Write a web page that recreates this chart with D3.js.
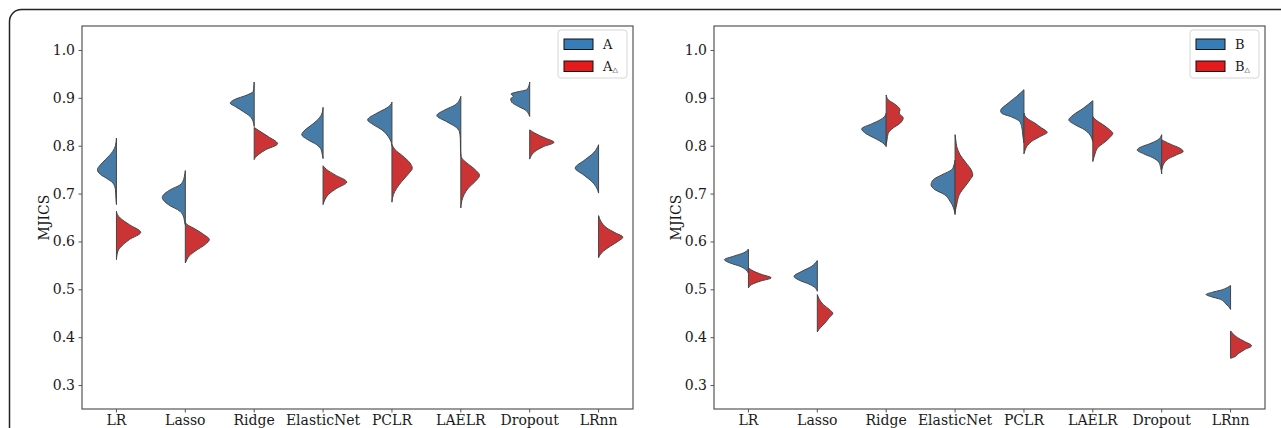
<!DOCTYPE html>
<html><head><meta charset="utf-8">
<script src="https://cdn.jsdelivr.net/npm/d3@7"></script>
<style>body{margin:0;background:#fff}svg{display:block}</style>
</head><body>
<svg id="chart" width="1281" height="428"></svg>
<script>
// ---- data ----
const categories = ["LR","Lasso","Ridge","ElasticNet","PCLR","LAELR","Dropout","LRnn"];
const yTicks = [0.3,0.4,0.5,0.6,0.7,0.8,0.9,1.0];
const yTickLabels = ["0.3","0.4","0.5","0.6","0.7","0.8","0.9","1.0"];
const yLabel = "MJICS";
const legendA = ["A","A"];
const legendB = ["B","B"];
const subMark = "\u25B3";

// density profiles [value, density] per category
const densityA = [
  [[0.816,0],[0.800,1],[0.788,3.7],[0.771,11],[0.760,16],[0.750,19],[0.740,16],[0.732,10],[0.722,3.5],[0.708,1],[0.690,0.5],[0.677,0]],
  [[0.748,0],[0.735,1],[0.725,2.5],[0.718,5.3],[0.708,15],[0.692,23],[0.677,17],[0.663,5.3],[0.650,1.5],[0.642,0.8],[0.635,0]],
  [[0.933,0],[0.920,0.5],[0.913,1],[0.906,7],[0.896,20],[0.889,24],[0.882,19],[0.871,10.7],[0.861,4],[0.850,1],[0.840,0]],
  [[0.880,0],[0.868,1],[0.858,3.7],[0.844,11],[0.831,19],[0.823,21.3],[0.813,15.7],[0.802,6.3],[0.792,2],[0.782,0.8],[0.773,0]],
  [[0.891,0],[0.885,1.5],[0.879,5],[0.868,15],[0.854,24.3],[0.844,18.7],[0.833,10],[0.819,3.7],[0.809,1],[0.800,0]],
  [[0.903,0],[0.895,1.5],[0.885,5.7],[0.875,15.7],[0.863,24],[0.850,14],[0.840,5.7],[0.830,1.5],[0.815,0.5],[0.790,0.3],[0.780,0]],
  [[0.933,0],[0.925,0.8],[0.917,3],[0.912,13],[0.908,18.7],[0.903,16.3],[0.898,19],[0.891,18],[0.882,11.3],[0.875,4.7],[0.868,1.5],[0.861,0]],
  [[0.802,0],[0.795,1.5],[0.785,5],[0.771,13.3],[0.753,23.3],[0.739,15],[0.725,6.7],[0.711,1.7],[0.701,0]]
];
const densityAd = [
  [[0.663,0],[0.656,1],[0.649,3.7],[0.635,13],[0.619,24.3],[0.604,13],[0.590,5],[0.580,1.5],[0.562,0]],
  [[0.640,0],[0.635,2],[0.628,8],[0.615,18],[0.604,24],[0.594,20],[0.580,10],[0.570,4],[0.562,1.5],[0.555,0]],
  [[0.838,0],[0.831,5],[0.819,14],[0.804,23.3],[0.791,11],[0.781,4],[0.775,1],[0.771,0]],
  [[0.758,0],[0.750,3.7],[0.739,12],[0.724,23.7],[0.711,13.7],[0.698,5.3],[0.688,2],[0.677,0]],
  [[0.802,0],[0.792,3],[0.778,11],[0.764,18],[0.753,20.3],[0.740,16],[0.725,9.7],[0.711,4.7],[0.698,1.5],[0.682,0]],
  [[0.781,0],[0.774,1],[0.764,6],[0.750,14.3],[0.738,18.7],[0.725,14.3],[0.712,7.7],[0.698,3.3],[0.685,1],[0.670,0]],
  [[0.833,0],[0.826,5.3],[0.816,15.3],[0.807,24.3],[0.798,13.7],[0.788,5.3],[0.779,1.5],[0.772,0]],
  [[0.654,0],[0.648,1],[0.642,2.3],[0.628,8.3],[0.618,16.7],[0.609,24.3],[0.601,20],[0.590,11.7],[0.580,5],[0.572,1.5],[0.566,0]]
];
const densityB = [
  [[0.584,0],[0.576,5],[0.569,15],[0.562,24],[0.555,18.3],[0.548,8.3],[0.541,2.7],[0.534,0]],
  [[0.560,0],[0.548,5.7],[0.538,15],[0.527,23.3],[0.520,19],[0.510,7.3],[0.503,2],[0.496,0]],
  [[0.868,0],[0.860,2],[0.854,6],[0.846,14],[0.835,24.5],[0.825,20],[0.814,10],[0.806,3.5],[0.798,0]],
  [[0.770,0],[0.760,1],[0.750,3.3],[0.739,13.3],[0.729,21.7],[0.718,24],[0.708,20],[0.698,10.7],[0.684,5],[0.670,1.5],[0.656,0]],
  [[0.917,0],[0.903,7.3],[0.889,15.7],[0.873,23.3],[0.868,22.3],[0.860,12.3],[0.850,4],[0.840,2.3],[0.830,1.5],[0.819,1],[0.806,0]],
  [[0.894,0],[0.878,9.6],[0.864,19.6],[0.854,24],[0.844,18],[0.833,8],[0.823,3],[0.815,1],[0.808,0]],
  [[0.823,0],[0.812,4],[0.804,12],[0.798,20],[0.791,24.5],[0.783,18],[0.775,9],[0.766,3],[0.754,1],[0.741,0]],
  [[0.508,0],[0.504,3],[0.498,10],[0.494,18],[0.489,24.5],[0.485,20],[0.479,10],[0.470,5],[0.464,2],[0.458,0]]
];
const densityBd = [
  [[0.545,0],[0.538,5],[0.531,13.3],[0.524,22.7],[0.517,11.7],[0.510,3.3],[0.503,0]],
  [[0.489,0],[0.479,2],[0.468,6],[0.458,12],[0.450,15.5],[0.441,12],[0.433,9],[0.424,5],[0.416,1.5],[0.411,0]],
  [[0.906,0],[0.896,2],[0.889,7],[0.882,11.5],[0.875,13.8],[0.868,13],[0.858,17],[0.847,14],[0.837,7],[0.826,2],[0.812,0.8],[0.802,0]],
  [[0.823,0],[0.810,0.8],[0.798,1.7],[0.781,5],[0.764,11],[0.750,16],[0.739,17.7],[0.729,15],[0.715,10],[0.698,4.3],[0.681,2],[0.660,0]],
  [[0.868,0],[0.858,2.7],[0.847,11],[0.837,17.7],[0.828,23.3],[0.819,16],[0.809,7.7],[0.798,2.7],[0.790,1],[0.783,0]],
  [[0.861,0],[0.854,3],[0.844,10],[0.833,17],[0.826,20],[0.817,17],[0.806,11],[0.796,5],[0.785,2.5],[0.775,1],[0.767,0]],
  [[0.812,0],[0.810,2],[0.802,10],[0.796,17],[0.788,21.5],[0.781,15],[0.773,7],[0.764,2.5],[0.757,1],[0.750,0]],
  [[0.413,0],[0.408,2],[0.399,7],[0.391,14],[0.382,21],[0.374,14],[0.366,8],[0.358,3],[0.356,0]]
];

// ---- styles ----
const blueFill = "#477ca8", redFill = "#cb3335";
const bluePatch = "#377eb8", redPatch = "#e41a1c";
const edge = "#444444";
const spine = "#555555";
const serif = "'DejaVu Serif', serif";

const svg = d3.select("#chart");

// outer frame
svg.append("rect").attr("x",9.5).attr("y",9.5).attr("width",1290).attr("height",440)
  .attr("rx",12).attr("fill","none").attr("stroke","#222").attr("stroke-width",1.5);

function panel(left, leftData, rightData, legendLabels){
  const top = 26, bottom = 409, width = 551;
  const x = d3.scaleBand().domain(categories).range([left, left+width]).padding(0);
  const y = d3.scaleLinear().domain([0.25, 1.05]).range([bottom, top]);
  const w = d3.scaleLinear().domain([0, 27.55]).range([0, x.bandwidth()*0.4]);
  const g = svg.append("g");

  // violins
  const line = d3.line().curve(d3.curveMonotoneY);
  categories.forEach((c,i)=>{
    const cx = x(c) + x.bandwidth()/2;
    [[leftData[i], -1, blueFill],[rightData[i], 1, redFill]].forEach(([prof, dir, col])=>{
      const pts = prof.map(d=>[cx + dir*w(d[1]), y(d[0])]);
      g.append("path").attr("d", line(pts) + "Z")
        .attr("fill", col).attr("stroke", edge).attr("stroke-width", 1).attr("stroke-linejoin","round");
    });
  });

  // axes
  const yAxis = d3.axisLeft(y).tickValues(yTicks).tickFormat((d,i)=>yTickLabels[i]).tickSize(3.5).tickPadding(3.5);
  const xAxis = d3.axisBottom(x).tickSize(3.5).tickPadding(2.5);
  const ya = g.append("g").attr("transform",`translate(${left},0)`).call(yAxis);
  const xa = g.append("g").attr("transform",`translate(0,${bottom})`).call(xAxis);
  [ya, xa].forEach(a=>{
    a.select(".domain").remove();
    a.selectAll("line").attr("stroke", spine).attr("stroke-width",1);
    a.selectAll("text").attr("font-family", serif).attr("font-size", 14).attr("fill","#1a1a1a");
  });
  g.append("rect").attr("x",left).attr("y",top).attr("width",width).attr("height",bottom-top)
    .attr("fill","none").attr("stroke",spine).attr("stroke-width",1.2);

  // y label
  g.append("text").attr("transform",`translate(${left-33},${(top+bottom)/2}) rotate(-90)`)
    .attr("text-anchor","middle").attr("font-family",serif).attr("font-size",14).attr("fill","#1a1a1a").text(yLabel);

  // legend
  const lx = left + width - 75, ly = 30;
  const lg = g.append("g").attr("transform",`translate(${lx},${ly})`);
  lg.append("rect").attr("x",0).attr("y",0).attr("width",69).attr("height",48).attr("rx",3)
    .attr("fill","#fff").attr("fill-opacity",0.8).attr("stroke","#d6d6d6").attr("stroke-width",1);
  [[bluePatch,legendLabels[0],false],[redPatch,legendLabels[1],true]].forEach(([col,lab,sub],k)=>{
    const yy = 9 + k*22;
    lg.append("rect").attr("x",6).attr("y",yy).attr("width",29).attr("height",10.5)
      .attr("fill",col).attr("stroke","#111").attr("stroke-width",1);
    const t = lg.append("text").attr("x",45).attr("y",yy+10).attr("font-family",serif).attr("font-size",13).attr("fill","#1a1a1a").text(lab);
    if(sub) t.append("tspan").attr("font-size",7).attr("dy",1).text(subMark);
  });
}

panel(82, densityA, densityAd, legendA);
panel(714, densityB, densityBd, legendB);
</script>
</body></html>
